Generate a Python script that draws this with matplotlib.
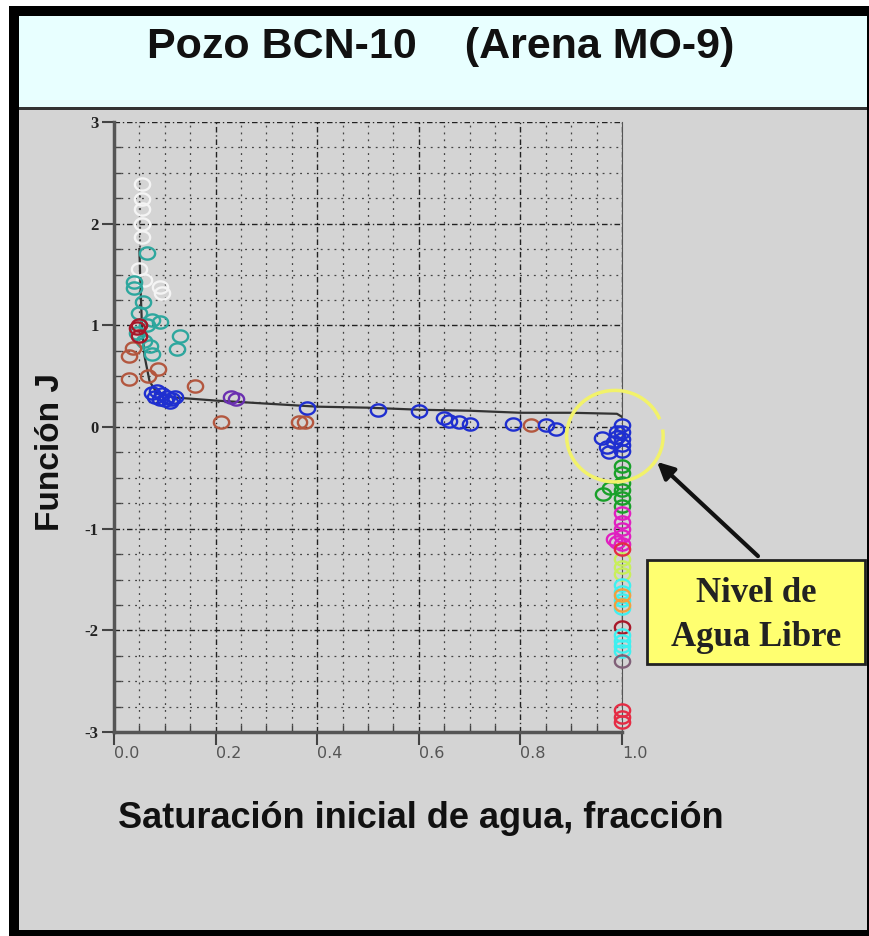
import numpy as np
import matplotlib
matplotlib.use("Agg")
import matplotlib.pyplot as plt
from matplotlib.patches import Rectangle, Arc
from matplotlib.path import Path
from matplotlib.ticker import MultipleLocator

# ---- data ----
curve_x = [0.05, 0.052, 0.055, 0.06, 0.07, 0.085, 0.12, 0.2, 0.3, 0.4, 0.5, 0.6, 0.7, 0.8, 0.9, 0.99, 1.0]
curve_y = [1.75, 1.4, 1.0, 0.7, 0.45, 0.33, 0.29, 0.26, 0.23, 0.2, 0.19, 0.17, 0.16, 0.14, 0.14, 0.13, 0.1]
dotted_x = [0.052, 0.052]
dotted_y = [2.4, 1.75]

white_x = [0.055, 0.055, 0.055, 0.055, 0.055, 0.05, 0.09, 0.095, 0.06]
white_y = [2.39, 2.24, 2.14, 2.0, 1.87, 1.55, 1.38, 1.32, 1.45]

teal_x = [0.065, 0.04, 0.04, 0.057, 0.065, 0.075, 0.09, 0.06, 0.07, 0.075, 0.13, 0.124, 0.045, 0.05]
teal_y = [1.71, 1.43, 1.37, 1.23, 1.0, 1.05, 1.03, 0.85, 0.8, 0.72, 0.9, 0.77, 0.92, 1.12]

darkred_x = [0.05, 0.045, 0.05, 1.0]
darkred_y = [1.0, 0.97, 0.9, -1.97]

brown_x = [0.037, 0.03, 0.03, 0.087, 0.067, 0.16, 0.21, 0.365, 0.375, 0.82]
brown_y = [0.78, 0.7, 0.47, 0.57, 0.5, 0.4, 0.05, 0.05, 0.05, 0.02]

blue_x = [0.075, 0.08, 0.085, 0.09, 0.095, 0.1, 0.105, 0.11, 0.12, 0.115,
          0.38, 0.52, 0.6, 0.65, 0.66, 0.68, 0.7, 0.785, 0.85, 0.87,
          0.96, 0.97, 0.975, 0.985, 0.99, 1.0, 1.0, 1.0, 1.0, 1.0, 0.99]
blue_y = [0.33, 0.3, 0.35, 0.28, 0.32, 0.27, 0.3, 0.25, 0.3, 0.28,
          0.19, 0.17, 0.16, 0.09, 0.06, 0.05, 0.03, 0.03, 0.02, -0.02,
          -0.11, -0.2, -0.25, -0.15, -0.05, 0.02, -0.05, -0.12, -0.18, -0.24, -0.1]

purple_x = [0.23, 0.24]
purple_y = [0.3, 0.28]

green_x = [1.0, 1.0, 1.0, 1.0, 1.0, 1.0, 0.963, 0.976]
green_y = [-0.38, -0.45, -0.55, -0.62, -0.7, -0.78, -0.66, -0.6]

magenta_x = [1.0, 1.0, 1.0, 0.985, 0.99, 1.0, 1.0]
magenta_y = [-0.85, -0.93, -1.0, -1.1, -1.13, -1.15, -1.07]

lime_x = [1.0, 1.0, 1.0]
lime_y = [-1.3, -1.38, -1.45]

cyan_x = [1.0, 1.0, 1.0, 1.0, 1.0, 1.0, 1.0, 1.0]
cyan_y = [-1.55, -1.62, -1.7, -1.78, -2.05, -2.1, -2.15, -2.2]

orange_x = [1.0, 1.0]
orange_y = [-1.65, -1.75]

mauve_x = [1.0]
mauve_y = [-2.3]

red_x = [1.0, 1.0, 1.0, 1.0]
red_y = [-1.2, -2.78, -2.85, -2.9]

groups = [
    (white_x, white_y, "#f4f4f4"),
    (teal_x, teal_y, "#2ea79e"),
    (brown_x, brown_y, "#b3573f"),
    (darkred_x, darkred_y, "#a8182a"),
    (blue_x, blue_y, "#1f2fd0"),
    (purple_x, purple_y, "#6a2fb0"),
    (green_x, green_y, "#19a02a"),
    (magenta_x, magenta_y, "#e020c0"),
    (lime_x, lime_y, "#c8ef5a"),
    (cyan_x, cyan_y, "#3ff0f0"),
    (orange_x, orange_y, "#f0a040"),
    (mauve_x, mauve_y, "#806078"),
    (red_x, red_y, "#e52c44"),
]

W, H = 869, 936
fig = plt.figure(figsize=(W / 100, H / 100), dpi=100)
fig.patch.set_facecolor("white")


def px_rect(x0, y0, x1, y1, color, z=-5):
    # rectangle given in image pixels (top-left origin)
    fig.patches.append(Rectangle((x0 / W, 1 - y1 / H), (x1 - x0) / W, (y1 - y0) / H,
                                 transform=fig.transFigure, facecolor=color,
                                 edgecolor="none", zorder=z))


px_rect(9, 6, 869, 936, "#000000", -6)        # black frame
px_rect(19, 16, 867, 107, "#e8ffff")      # title band
px_rect(19, 107, 867, 110, "#333333")     # line under band
px_rect(19, 110, 867, 930, "#d4d4d4")     # gray panel

fig.text(441 / W, 1 - 47 / H, "Pozo BCN-10    (Arena MO-9)", ha="center", va="center",
         fontsize=31, fontweight="bold", family="Liberation Sans", color="#111111")

ax = fig.add_axes([114 / W, 1 - 732 / H, (622 - 114) / W, (732 - 122) / H])
ax.set_facecolor("#d4d4d4")
ax.set_xlim(0, 1)
ax.set_ylim(-3, 3)

ax.xaxis.set_major_locator(MultipleLocator(0.2))
ax.xaxis.set_minor_locator(MultipleLocator(0.05))
ax.yaxis.set_major_locator(MultipleLocator(1))
ax.yaxis.set_minor_locator(MultipleLocator(0.25))
ax.grid(which="major", color="#222222", linestyle=(0, (4, 2, 1, 2)), linewidth=1.0)
ax.grid(which="minor", color="#444444", linestyle=(0, (1.5, 4)), linewidth=0.9)
ax.set_axisbelow(True)

ax.spines["top"].set_visible(False)
ax.spines["right"].set_color("#555555")
ax.spines["right"].set_linewidth(0.8)
ax.spines["left"].set_color("#555555")
ax.spines["left"].set_linewidth(2.5)
ax.spines["bottom"].set_color("#555555")
ax.spines["bottom"].set_linewidth(2.5)

ax.tick_params(which="major", direction="out", length=9, width=1.5, color="#444444")
ax.tick_params(which="minor", direction="in", length=5, width=1.0, color="#444444")
ax.tick_params(axis="y", labelsize=12, pad=2)
ax.tick_params(axis="x", labelsize=11.5, pad=1)
ax.set_xticks([0, 0.2, 0.4, 0.6, 0.8, 1.0])
ax.set_xticklabels(["0.0", "0.2", "0.4", "0.6", "0.8", "1.0"], color="#555555")
for lab in ax.get_xticklabels():
    lab.set_ha("left")
ax.set_yticks([-3, -2, -1, 0, 1, 2, 3])
ax.set_yticklabels(["-3", "-2", "-1", "0", "1", "2", "3"], family="Liberation Serif",
                   fontweight="bold", color="#222222")

ax.plot(curve_x, curve_y, color="#333333", linewidth=1.6, zorder=3)
ax.plot(dotted_x, dotted_y, color="#555555", linewidth=1.5, linestyle=(0, (1, 2)), zorder=3)

# slightly flattened open circle marker
t = np.linspace(0, 2 * np.pi, 40)
oval = Path(np.column_stack([np.cos(t), 0.8 * np.sin(t)]), closed=True)

for gx, gy, col in groups:
    ax.plot(gx, gy, linestyle="none", marker=oval, markersize=11, markerfacecolor="none",
            markeredgecolor=col, markeredgewidth=1.7, clip_on=False, zorder=4)

# yellow open circle around the free water level
arc = Arc((0.986, -0.09), 0.19, 0.9, theta1=62, theta2=395, color="#f2f26a",
          linewidth=2.5, clip_on=False, zorder=5)
ax.add_patch(arc)

fig.text(51 / W, 1 - 452 / H, "Función J", rotation=90, ha="center", va="center",
         fontsize=24, fontweight="bold", family="Liberation Sans", color="#111111")
fig.text(421 / W, 1 - 818 / H, "Saturación inicial de agua, fracción", ha="center", va="center",
         fontsize=26, fontweight="bold", family="Liberation Sans", color="#111111")

# callout box and arrow
fig.patches.append(Rectangle((647 / W, 1 - 664 / H), (865 - 647) / W, (664 - 560) / H,
                             transform=fig.transFigure, facecolor="#ffff70",
                             edgecolor="#222222", linewidth=2, zorder=6))
fig.text(756 / W, 1 - 593 / H, "Nivel de", ha="center", va="center", fontsize=25,
         fontweight="bold", family="Liberation Serif", color="#222222", zorder=7)
fig.text(756 / W, 1 - 637 / H, "Agua Libre", ha="center", va="center", fontsize=25,
         fontweight="bold", family="Liberation Serif", color="#222222", zorder=7)
ax.annotate("", xy=(655 / W, 1 - 460 / H), xycoords="figure fraction",
            xytext=(760 / W, 1 - 558 / H), textcoords="figure fraction",
            arrowprops=dict(arrowstyle="-|>,head_length=1.0,head_width=0.5",
                            color="#111111", linewidth=3), zorder=8)

fig.savefig("out.png", dpi=100)
